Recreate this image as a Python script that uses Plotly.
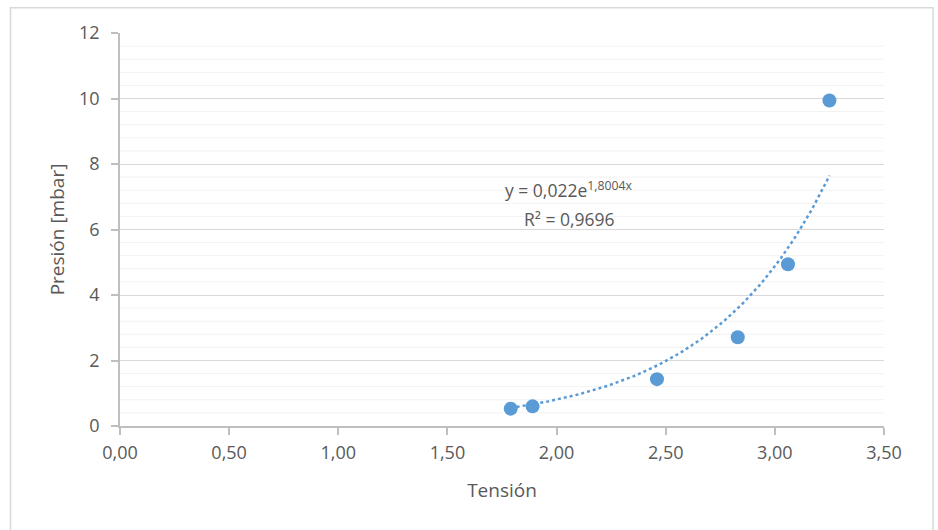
import numpy as np
import plotly.graph_objects as go

# Measured points: voltage (V) vs pressure (mbar)
tension = [1.79, 1.89, 2.46, 2.83, 3.06, 3.25]
presion = [0.53, 0.60, 1.43, 2.71, 4.94, 9.94]

# Exponential trendline coefficients y = a * e^(b x)
coef_a = 0.022
coef_b = 1.8004
r2 = 0.9696

x_ticks = [0.0, 0.5, 1.0, 1.5, 2.0, 2.5, 3.0, 3.5]
x_tick_text = ["0,00", "0,50", "1,00", "1,50", "2,00", "2,50", "3,00", "3,50"]
y_ticks = [0, 2, 4, 6, 8, 10, 12]

blue = "#5B9BD5"
txt = "#595959"
font_family = "'Open Sans', Lato, sans-serif"

xt = np.linspace(min(tension), max(tension), 120)
yt = coef_a * np.exp(coef_b * xt)

fig = go.Figure()

# minor gridlines every 0.4
for v in np.arange(0.4, 12, 0.4):
    if abs(v / 2 - round(v / 2)) < 1e-6:
        continue
    fig.add_shape(type="line", xref="x", yref="y", x0=0, x1=3.5, y0=v, y1=v,
                  line=dict(color="#F2F2F2", width=1), layer="below")

fig.add_trace(go.Scatter(
    x=xt, y=yt, mode="lines",
    line=dict(color=blue, width=2.5, dash="dot"),
    hoverinfo="skip", showlegend=False,
))
fig.add_trace(go.Scatter(
    x=tension, y=presion, mode="markers",
    marker=dict(color=blue, size=14, line=dict(width=0)),
    showlegend=False,
))

# trendline equation and R²
fig.add_annotation(
    x=2.055, y=7.21, xref="x", yref="y",
    text="y = 0,022e<sup>1,8004x</sup>",
    showarrow=False, align="center",
    font=dict(family=font_family, size=17.5, color=txt),
)
fig.add_annotation(
    x=2.06, y=6.32, xref="x", yref="y",
    text="R² = " + f"{r2:.4f}".replace(".", ","),
    showarrow=False, align="center",
    font=dict(family=font_family, size=17.5, color=txt),
)

# outer chart border
fig.add_shape(type="rect", xref="paper", yref="paper",
              x0=-0.1433, x1=1.0641, y0=-0.30, y1=1.0645,
              line=dict(color="#D9D9D9", width=1.5), fillcolor="rgba(0,0,0,0)")

fig.update_layout(
    width=938, height=530,
    margin=dict(l=120, r=54, t=33, b=104),
    paper_bgcolor="white", plot_bgcolor="white",
    font=dict(family=font_family, size=17, color=txt),
    xaxis=dict(
        range=[0, 3.5], tickvals=x_ticks, ticktext=x_tick_text,
        showgrid=False, zeroline=False,
        showline=True, linecolor="#BFBFBF", linewidth=1.5,
        ticks="outside", ticklen=7, tickcolor="#BFBFBF", tickwidth=1.5,
        ticklabelstandoff=3,
        title=dict(text="Tensión", font=dict(size=19, color=txt), standoff=20),
        tickfont=dict(size=18, color=txt),
    ),
    yaxis=dict(
        range=[0, 12], tickvals=y_ticks,
        showgrid=True, gridcolor="#D9D9D9", gridwidth=1,
        zeroline=False,
        showline=True, linecolor="#BFBFBF", linewidth=1.5,
        ticks="outside", ticklen=7, tickcolor="#BFBFBF", tickwidth=1.5,
        ticklabelstandoff=8,
        title=dict(text="Presión [mbar]", font=dict(size=19, color=txt), standoff=9),
        tickfont=dict(size=18, color=txt),
    ),
)

fig.write_html("out.html")
